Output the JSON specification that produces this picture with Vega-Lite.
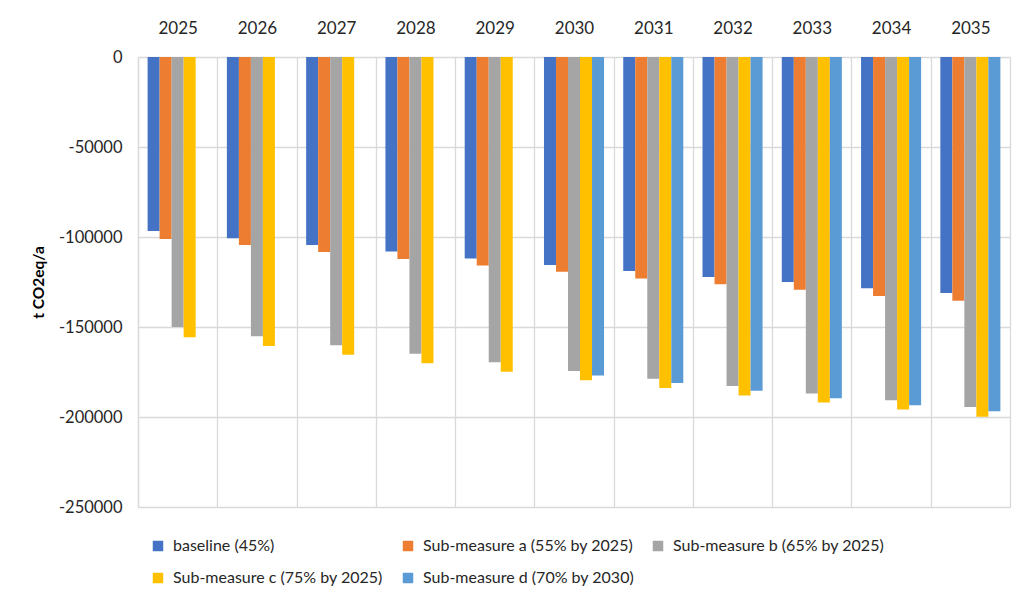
{
  "$schema": "https://vega.github.io/schema/vega-lite/v6.json",
  "autosize": {"type": "none"},
  "padding": {"left": 138, "top": 57, "right": 8, "bottom": 94},
  "width": 872,
  "height": 450,
  "background": "white",
  "data": {"values": [
    {"year": "2025", "series": "baseline (45%)", "value": -96700},
    {"year": "2025", "series": "Sub-measure a (55% by 2025)", "value": -101100},
    {"year": "2025", "series": "Sub-measure b (65% by 2025)", "value": -150000},
    {"year": "2025", "series": "Sub-measure c (75% by 2025)", "value": -155700},
    {"year": "2026", "series": "baseline (45%)", "value": -100700},
    {"year": "2026", "series": "Sub-measure a (55% by 2025)", "value": -104400},
    {"year": "2026", "series": "Sub-measure b (65% by 2025)", "value": -155200},
    {"year": "2026", "series": "Sub-measure c (75% by 2025)", "value": -160600},
    {"year": "2027", "series": "baseline (45%)", "value": -104400},
    {"year": "2027", "series": "Sub-measure a (55% by 2025)", "value": -108300},
    {"year": "2027", "series": "Sub-measure b (65% by 2025)", "value": -160200},
    {"year": "2027", "series": "Sub-measure c (75% by 2025)", "value": -165400},
    {"year": "2028", "series": "baseline (45%)", "value": -108000},
    {"year": "2028", "series": "Sub-measure a (55% by 2025)", "value": -112200},
    {"year": "2028", "series": "Sub-measure b (65% by 2025)", "value": -164800},
    {"year": "2028", "series": "Sub-measure c (75% by 2025)", "value": -170200},
    {"year": "2029", "series": "baseline (45%)", "value": -111900},
    {"year": "2029", "series": "Sub-measure a (55% by 2025)", "value": -115900},
    {"year": "2029", "series": "Sub-measure b (65% by 2025)", "value": -169600},
    {"year": "2029", "series": "Sub-measure c (75% by 2025)", "value": -174800},
    {"year": "2030", "series": "baseline (45%)", "value": -115600},
    {"year": "2030", "series": "Sub-measure a (55% by 2025)", "value": -119300},
    {"year": "2030", "series": "Sub-measure b (65% by 2025)", "value": -174400},
    {"year": "2030", "series": "Sub-measure c (75% by 2025)", "value": -179600},
    {"year": "2030", "series": "Sub-measure d (70% by 2030)", "value": -176900},
    {"year": "2031", "series": "baseline (45%)", "value": -118900},
    {"year": "2031", "series": "Sub-measure a (55% by 2025)", "value": -123100},
    {"year": "2031", "series": "Sub-measure b (65% by 2025)", "value": -178700},
    {"year": "2031", "series": "Sub-measure c (75% by 2025)", "value": -183900},
    {"year": "2031", "series": "Sub-measure d (70% by 2030)", "value": -181100},
    {"year": "2032", "series": "baseline (45%)", "value": -122200},
    {"year": "2032", "series": "Sub-measure a (55% by 2025)", "value": -126300},
    {"year": "2032", "series": "Sub-measure b (65% by 2025)", "value": -182800},
    {"year": "2032", "series": "Sub-measure c (75% by 2025)", "value": -188100},
    {"year": "2032", "series": "Sub-measure d (70% by 2030)", "value": -185400},
    {"year": "2033", "series": "baseline (45%)", "value": -125000},
    {"year": "2033", "series": "Sub-measure a (55% by 2025)", "value": -129300},
    {"year": "2033", "series": "Sub-measure b (65% by 2025)", "value": -186900},
    {"year": "2033", "series": "Sub-measure c (75% by 2025)", "value": -192000},
    {"year": "2033", "series": "Sub-measure d (70% by 2030)", "value": -189600},
    {"year": "2034", "series": "baseline (45%)", "value": -128500},
    {"year": "2034", "series": "Sub-measure a (55% by 2025)", "value": -132800},
    {"year": "2034", "series": "Sub-measure b (65% by 2025)", "value": -190700},
    {"year": "2034", "series": "Sub-measure c (75% by 2025)", "value": -195900},
    {"year": "2034", "series": "Sub-measure d (70% by 2030)", "value": -193500},
    {"year": "2035", "series": "baseline (45%)", "value": -131100},
    {"year": "2035", "series": "Sub-measure a (55% by 2025)", "value": -135400},
    {"year": "2035", "series": "Sub-measure b (65% by 2025)", "value": -194400},
    {"year": "2035", "series": "Sub-measure c (75% by 2025)", "value": -199800},
    {"year": "2035", "series": "Sub-measure d (70% by 2030)", "value": -196800}
  ]},
  "mark": {"type": "bar"},
  "encoding": {
    "x": {
      "field": "year", "type": "nominal",
      "scale": {"paddingInner": 0, "paddingOuter": 0},
      "axis": {
        "orient": "top", "title": null, "labelAngle": 0,
        "tickBand": "extent", "grid": true, "gridColor": "#D9D9D9", "gridWidth": 1.3,
        "ticks": false, "domain": false, "labelPadding": 20,
        "labelFontSize": 17, "labelFont": "Lato", "labelColor": "#262626"
      }
    },
    "xOffset": {
      "field": "series", "type": "nominal",
      "scale": {
        "domain": ["baseline (45%)", "Sub-measure a (55% by 2025)", "Sub-measure b (65% by 2025)", "Sub-measure c (75% by 2025)", "Sub-measure d (70% by 2030)"],
        "paddingInner": 0, "paddingOuter": 0.8
      }
    },
    "y": {
      "field": "value", "type": "quantitative",
      "scale": {"domain": [-250000, 0], "nice": false, "zero": true},
      "axis": {
        "title": "t CO2eq/a", "values": [0, -50000, -100000, -150000, -200000, -250000],
        "labelExpr": "'' + datum.value", "grid": true, "gridColor": "#D9D9D9", "gridWidth": 1.3,
        "domain": true, "domainColor": "#D9D9D9", "domainWidth": 1.3,
        "ticks": false, "labelPadding": 16,
        "labelFontSize": 16.5, "labelFont": "Lato", "labelColor": "#262626",
        "titleFont": "Lato", "titleFontSize": 15.5, "titleFontWeight": "bold", "titleColor": "#000000",
        "titleX": -100, "titleY": 225, "titleAngle": -90, "titleAlign": "center", "titleBaseline": "middle"
      }
    },
    "color": {
      "field": "series", "type": "nominal",
      "scale": {
        "domain": ["baseline (45%)", "Sub-measure a (55% by 2025)", "Sub-measure b (65% by 2025)", "Sub-measure c (75% by 2025)", "Sub-measure d (70% by 2030)"],
        "range": ["#4472C4", "#ED7D31", "#A5A5A5", "#FFC000", "#5B9BD5"]
      },
      "legend": {
        "title": null, "orient": "none", "legendX": 12, "legendY": 481,
        "direction": "horizontal", "columns": 3, "gridAlign": "all",
        "symbolType": "square", "symbolSize": 110, "symbolStrokeWidth": 0,
        "labelFont": "Lato", "labelFontSize": 16, "labelColor": "#262626",
        "labelOffset": 7, "columnPadding": 15, "rowPadding": 16, "labelLimit": 400
      }
    }
  },
  "config": {"view": {"stroke": null}}
}
